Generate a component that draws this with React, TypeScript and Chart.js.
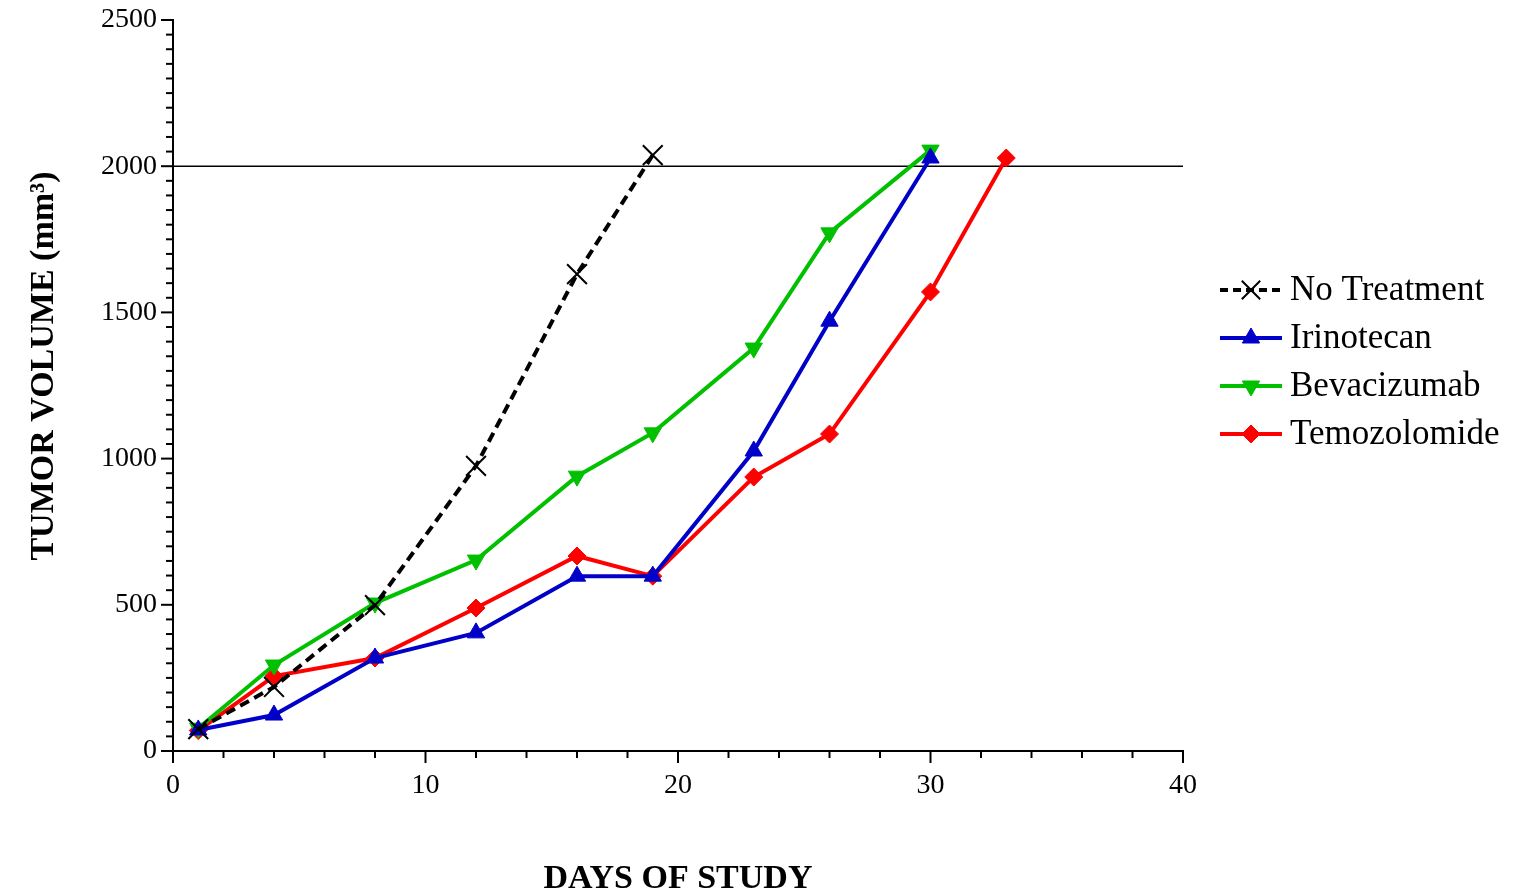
import React, { useEffect, useRef } from "react";
import { Chart, registerables } from "chart.js";
import { drawPoint } from "chart.js/helpers";

Chart.register(...registerables);

const noTreatmentDays = [1, 4, 8, 12, 16, 19];
const noTreatmentValues = [75, 219, 499, 975, 1631, 2038];

const irinotecanDays = [1, 4, 8, 12, 16, 19, 23, 26, 30];
const irinotecanValues = [72, 123, 318, 404, 598, 598, 1026, 1470, 2028];

const bevacizumabDays = [1, 4, 8, 12, 16, 19, 23, 26, 30];
const bevacizumabValues = [78, 294, 506, 653, 940, 1088, 1378, 1772, 2055];

const temozolomideDays = [1, 4, 8, 12, 16, 19, 23, 26, 30, 33];
const temozolomideValues = [70, 256, 318, 489, 667, 598, 937, 1084, 1570, 2028];

const thresholdDays = [0, 40];
const thresholdValues = [2000, 2000];

const seriesLabels = ["No Treatment", "Irinotecan", "Bevacizumab", "Temozolomide"];
const xTitle = "DAYS OF STUDY";
const yTitle = "TUMOR VOLUME (mm\u00B3)";

const toPoints = (xs: number[], ys: number[]) => xs.map((x, i) => ({ x, y: ys[i] }));

const BLACK = "#000000";
const BLUE = "#0000C8";
const GREEN = "#00C000";
const RED = "#FF0000";
const SERIF = "'Liberation Serif', 'Times New Roman', serif";

const legendStyles = [
  { color: BLACK, dash: [8, 5], pointStyle: "crossRot", radius: 13, rotation: 0, fill: false },
  { color: BLUE, dash: [], pointStyle: "triangle", radius: 10, rotation: 0, fill: true },
  { color: GREEN, dash: [], pointStyle: "triangle", radius: 10, rotation: 180, fill: true },
  { color: RED, dash: [], pointStyle: "rectRot", radius: 9, rotation: 0, fill: true },
];

const decorPlugin = {
  id: "decor",
  afterDraw(chart: any) {
    const ctx = chart.ctx;
    const xs = chart.scales.x;
    const ys = chart.scales.y;
    const axisX = xs.left;
    const axisY = ys.bottom;
    ctx.save();
    ctx.strokeStyle = BLACK;
    ctx.lineWidth = 2;
    ctx.setLineDash([]);
    for (let v = 0; v <= 2500; v += 50) {
      const py = ys.getPixelForValue(v);
      const len = v % 500 === 0 ? 12 : 7;
      ctx.beginPath();
      ctx.moveTo(axisX, py);
      ctx.lineTo(axisX - len, py);
      ctx.stroke();
    }
    for (let v = 0; v <= 40; v += 2) {
      const px = xs.getPixelForValue(v);
      const len = v % 10 === 0 ? 12 : 7;
      ctx.beginPath();
      ctx.moveTo(px, axisY);
      ctx.lineTo(px, axisY + len);
      ctx.stroke();
    }
    ctx.fillStyle = BLACK;
    ctx.font = `bold 34px ${SERIF}`;
    ctx.textAlign = "center";
    ctx.textBaseline = "alphabetic";
    ctx.fillText(xTitle, (xs.left + xs.right) / 2, 888);
    ctx.save();
    ctx.translate(53, 366);
    ctx.rotate(-Math.PI / 2);
    ctx.font = `bold 34px ${SERIF}`;
    ctx.fillText(yTitle, 0, 0);
    ctx.restore();
    const rowY = [290, 338, 386, 434];
    seriesLabels.forEach((label, i) => {
      const st = legendStyles[i];
      const y = rowY[i];
      ctx.save();
      ctx.strokeStyle = st.color;
      ctx.lineWidth = 4;
      ctx.setLineDash(st.dash);
      ctx.beginPath();
      ctx.moveTo(1220, y);
      ctx.lineTo(1282, y);
      ctx.stroke();
      ctx.setLineDash([]);
      ctx.fillStyle = st.color;
      ctx.strokeStyle = st.color;
      ctx.lineWidth = st.fill ? 1 : 2;
      drawPoint(ctx, { pointStyle: st.pointStyle as any, radius: st.radius, rotation: st.rotation, borderWidth: ctx.lineWidth }, 1251, y);
      ctx.restore();
      ctx.fillStyle = BLACK;
      ctx.font = `35px ${SERIF}`;
      ctx.textAlign = "left";
      ctx.textBaseline = "middle";
      ctx.fillText(label, 1290, y + 1);
    });
    ctx.restore();
  },
};

export default function App() {
  const canvasRef = useRef<HTMLCanvasElement | null>(null);

  useEffect(() => {
    if (!canvasRef.current) return;
    const mk = (label: string, xs: number[], ys: number[], color: string, style: string, radius: number, rotation = 0, dash: number[] = []) => ({
      label,
      data: toPoints(xs, ys),
      borderColor: color,
      backgroundColor: color,
      borderWidth: 4,
      borderDash: dash,
      pointStyle: style,
      pointRadius: radius,
      pointRotation: rotation,
      pointBorderWidth: style === "crossRot" ? 2 : 1,
      pointBackgroundColor: color,
      pointBorderColor: color,
      fill: false,
      tension: 0,
    });
    const chart = new Chart(canvasRef.current, {
      type: "line",
      data: {
        datasets: [
          mk(seriesLabels[0], noTreatmentDays, noTreatmentValues, BLACK, "crossRot", 14, 0, [10, 6]),
          mk(seriesLabels[1], irinotecanDays, irinotecanValues, BLUE, "triangle", 10),
          mk(seriesLabels[2], bevacizumabDays, bevacizumabValues, GREEN, "triangle", 10, 180),
          mk(seriesLabels[3], temozolomideDays, temozolomideValues, RED, "rectRot", 9),
          {
            label: "threshold",
            data: toPoints(thresholdDays, thresholdValues),
            borderColor: BLACK,
            borderWidth: 1.5,
            pointRadius: 0,
            fill: false,
          } as any,
        ] as any,
      },
      options: {
        animation: false,
        responsive: true,
        maintainAspectRatio: false,
        layout: { padding: { left: 0, right: 330, top: 20, bottom: 0 } },
        plugins: { legend: { display: false }, tooltip: { enabled: false } },
        scales: {
          x: {
            type: "linear",
            min: 0,
            max: 40,
            grid: { display: false, drawTicks: false },
            border: { display: true, color: BLACK, width: 2 },
            ticks: {
              stepSize: 10,
              padding: 18,
              color: BLACK,
              font: { family: SERIF, size: 28 },
              maxRotation: 0,
              callback: (v: any) => String(v),
            },
            afterFit: (s: any) => { s.height = 140; s.paddingLeft = 0; s.paddingRight = 0; },
          },
          y: {
            type: "linear",
            min: 0,
            max: 2500,
            grid: { display: false, drawTicks: false },
            border: { display: true, color: BLACK, width: 2 },
            ticks: {
              stepSize: 500,
              padding: 16,
              color: BLACK,
              font: { family: SERIF, size: 28 },
              callback: (v: any) => String(v),
            },
            afterFit: (s: any) => { s.width = 173; s.paddingTop = 0; s.paddingBottom = 0; },
          },
        },
      } as any,
      plugins: [decorPlugin],
    });
    return () => chart.destroy();
  }, []);

  return (
    <div style={{ position: "fixed", left: 0, top: 0, width: 1513, height: 891, background: "#fff" }}>
      <canvas ref={canvasRef} />
    </div>
  );
}
